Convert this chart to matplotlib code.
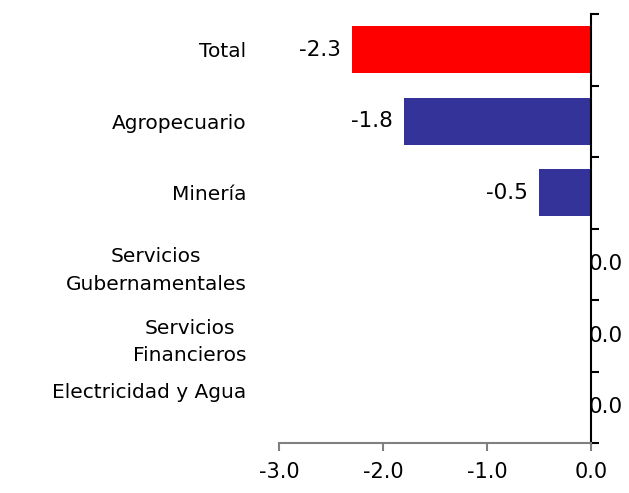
import matplotlib
matplotlib.use("Agg")
import matplotlib.pyplot as plt
import matplotlib.transforms as mtransforms
import numpy as np

categories = ["Total", "Agropecuario", "Minería",
              "Servicios\nGubernamentales", "Servicios\nFinancieros",
              "Electricidad y Agua"]
values = [-2.3, -1.8, -0.5, 0.0, 0.0, 0.0]
colors = ["#FF0000", "#333399", "#333399", "#333399", "#333399", "#333399"]
xticks = [-3.0, -2.0, -1.0, 0.0]

plt.rcParams["font.family"] = ["DejaVu Sans"]

fig = plt.figure(figsize=(6.29, 4.93), dpi=100)
ax = fig.add_axes([0.4436, 0.1014, 0.496, 0.870])

pos = np.arange(len(categories))
bars = ax.barh(pos, values, height=0.66, color=colors)

ax.set_xlim(-3.0, 0.0)
ax.set_ylim(len(categories) - 0.5, -0.5)

# value labels: negatives to the left of the bar end, zeros just right of the axis
for y, v in zip(pos, values):
    if v < 0:
        ax.annotate(f"{v:.1f}", (v, y), xytext=(-8, 0), textcoords="offset points",
                    ha="right", va="center", fontsize=15.5)
    else:
        ax.annotate(f"{v:.1f}", (v, y), xytext=(-1.5, 0), textcoords="offset points",
                    ha="left", va="center", fontsize=15.5)

# spines
for s in ["top", "left"]:
    ax.spines[s].set_visible(False)
ax.spines["right"].set_color("black")
ax.spines["right"].set_linewidth(1.5)
ax.spines["bottom"].set_color("#808080")
ax.spines["bottom"].set_linewidth(1.5)

ax.set_xticks(xticks)
ax.set_xticklabels([f"{t:.1f}" for t in xticks], fontsize=15)
ax.tick_params(axis="x", direction="out", length=6, width=1.5, color="#808080", pad=8)

# category names on the left, boundary ticks on the right spine
ax.set_yticks(pos)
ax.set_yticklabels(categories, fontsize=14.5, multialignment="center", linespacing=1.55)
ax.set_yticks(np.arange(len(categories) + 1) - 0.5, minor=True)
ax.tick_params(axis="y", which="major", left=False, right=False,
               labelleft=True, labelright=False, pad=20)
ax.tick_params(axis="y", which="minor", left=False, right=True, direction="out",
               length=6, width=1.5, color="black")

# last label sits a bit higher in the original
lab = ax.get_yticklabels()[-1]
lab.set_transform(lab.get_transform() + mtransforms.ScaledTranslation(0, 12 / 72, fig.dpi_scale_trans))

fig.savefig("out.png", dpi=100)
